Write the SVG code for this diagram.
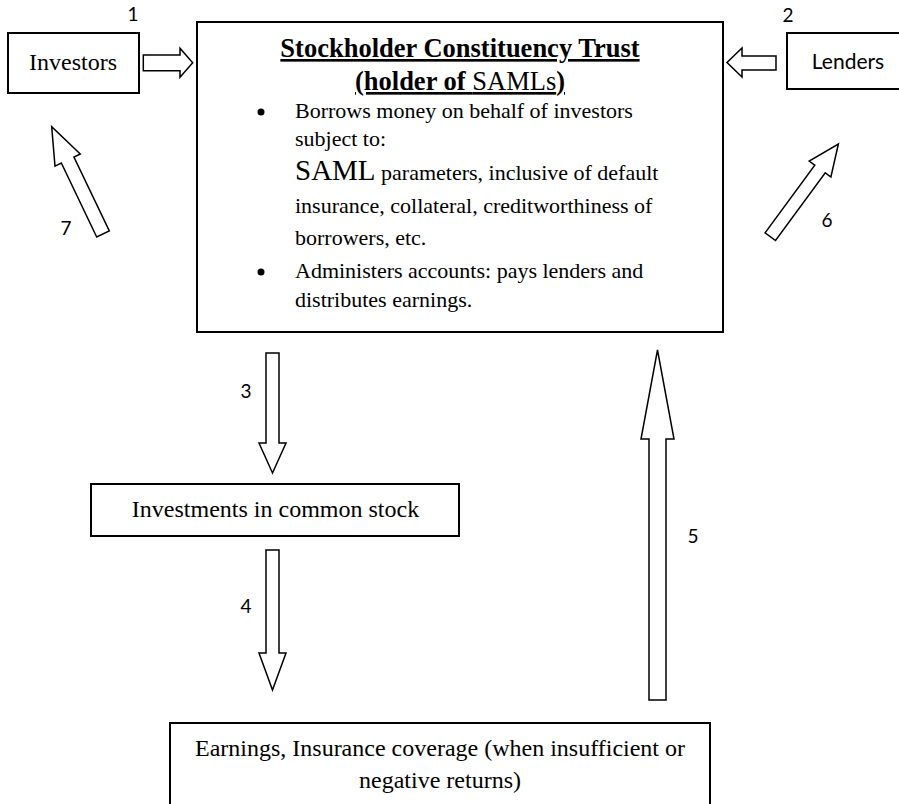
<svg xmlns="http://www.w3.org/2000/svg" width="899" height="804" viewBox="0 0 899 804">
<style>
.box{fill:#fff;stroke:#000;stroke-width:2}
.arr{fill:#fff;stroke:#000;stroke-width:1.5;stroke-linejoin:miter}
.serif{font-family:"Liberation Serif","Times New Roman",serif;fill:#000}
.sans{font-family:Lato,"Liberation Sans",sans-serif;fill:#000}
.num{font-family:Lato,"Liberation Sans",sans-serif;font-size:19px;fill:#000;text-anchor:middle}
</style>
<rect width="899" height="804" fill="#fff"/>
<g id="connectors">
<polygon class="arr" points="143.3,55 180,55 180,48.3 192.7,62.7 180,77.3 180,70.7 143.3,70.7"/>
<polygon class="arr" points="776,56 742,56 742,48 727,62.5 742,77 742,70 776,70"/>
<polygon class="arr" points="266,353 279,353 279,443 286,443 272.5,473 259,443 266,443"/>
<polygon class="arr" points="266,550 279,550 279,653 286,653 272.5,690 259,653 266,653"/>
<polygon class="arr" points="649,700 666,700 666,439 674,439 657.5,350 641,439 649,439"/>
<polygon class="arr" transform="translate(770.3,236.7) rotate(-53.7)" points="0,-6.5 84,-6.5 84,-13.5 115,0 84,13.5 84,6.5 0,6.5"/>
<polygon class="arr" transform="translate(103,234) rotate(-115.55)" points="0,-7 82,-7 82,-14 119,0 82,14 82,7 0,7"/>
<text class="num" x="133" y="21">1</text>
<text class="num" x="788" y="22">2</text>
<text class="num" x="246" y="398">3</text>
<text class="num" x="246" y="613">4</text>
<text class="num" x="693" y="543">5</text>
<text class="num" x="827" y="227">6</text>
<text class="num" x="66" y="235">7</text>
</g>
<g id="investors">
<rect class="box" x="8" y="33" width="131" height="60"/>
<text class="serif" x="73" y="70" font-size="24" text-anchor="middle">Investors</text>
</g>
<g id="lenders">
<rect class="box" x="787" y="33" width="120" height="56"/>
<text class="sans" x="848" y="69" font-size="21" text-anchor="middle">Lenders</text>
</g>
<g id="trust">
<rect class="box" x="197" y="22" width="526" height="310"/>
<text class="serif" x="460" y="57" font-size="26.5" font-weight="bold" text-anchor="middle" text-decoration="underline">Stockholder Constituency Trust</text>
<text class="serif" x="460" y="90" font-size="26.5" text-anchor="middle" text-decoration="underline"><tspan font-weight="bold">(holder of </tspan>SAMLs<tspan font-weight="bold">)</tspan></text>
<circle cx="261" cy="112" r="3.5" fill="#000"/>
<circle cx="261" cy="272" r="3.5" fill="#000"/>
<g class="serif" font-size="22">
<text x="295" y="118">Borrows money on behalf of investors</text>
<text x="295" y="146">subject to:</text>
<text x="295" y="180"><tspan font-size="29">SAML</tspan> parameters, inclusive of default</text>
<text x="295" y="213">insurance, collateral, creditworthiness of</text>
<text x="295" y="245">borrowers, etc.</text>
<text x="295" y="278">Administers accounts: pays lenders and</text>
<text x="295" y="307">distributes earnings.</text>
</g>
</g>
<g id="investments">
<rect class="box" x="91" y="484" width="368" height="52"/>
<text class="serif" x="275.5" y="517" font-size="24" text-anchor="middle">Investments in common stock</text>
</g>
<g id="earnings">
<rect class="box" x="170" y="723" width="540" height="100"/>
<text class="serif" x="440" y="756" font-size="24" text-anchor="middle">Earnings, Insurance coverage (when insufficient or</text>
<text class="serif" x="440" y="788" font-size="24" text-anchor="middle">negative returns)</text>
</g>
</svg>
